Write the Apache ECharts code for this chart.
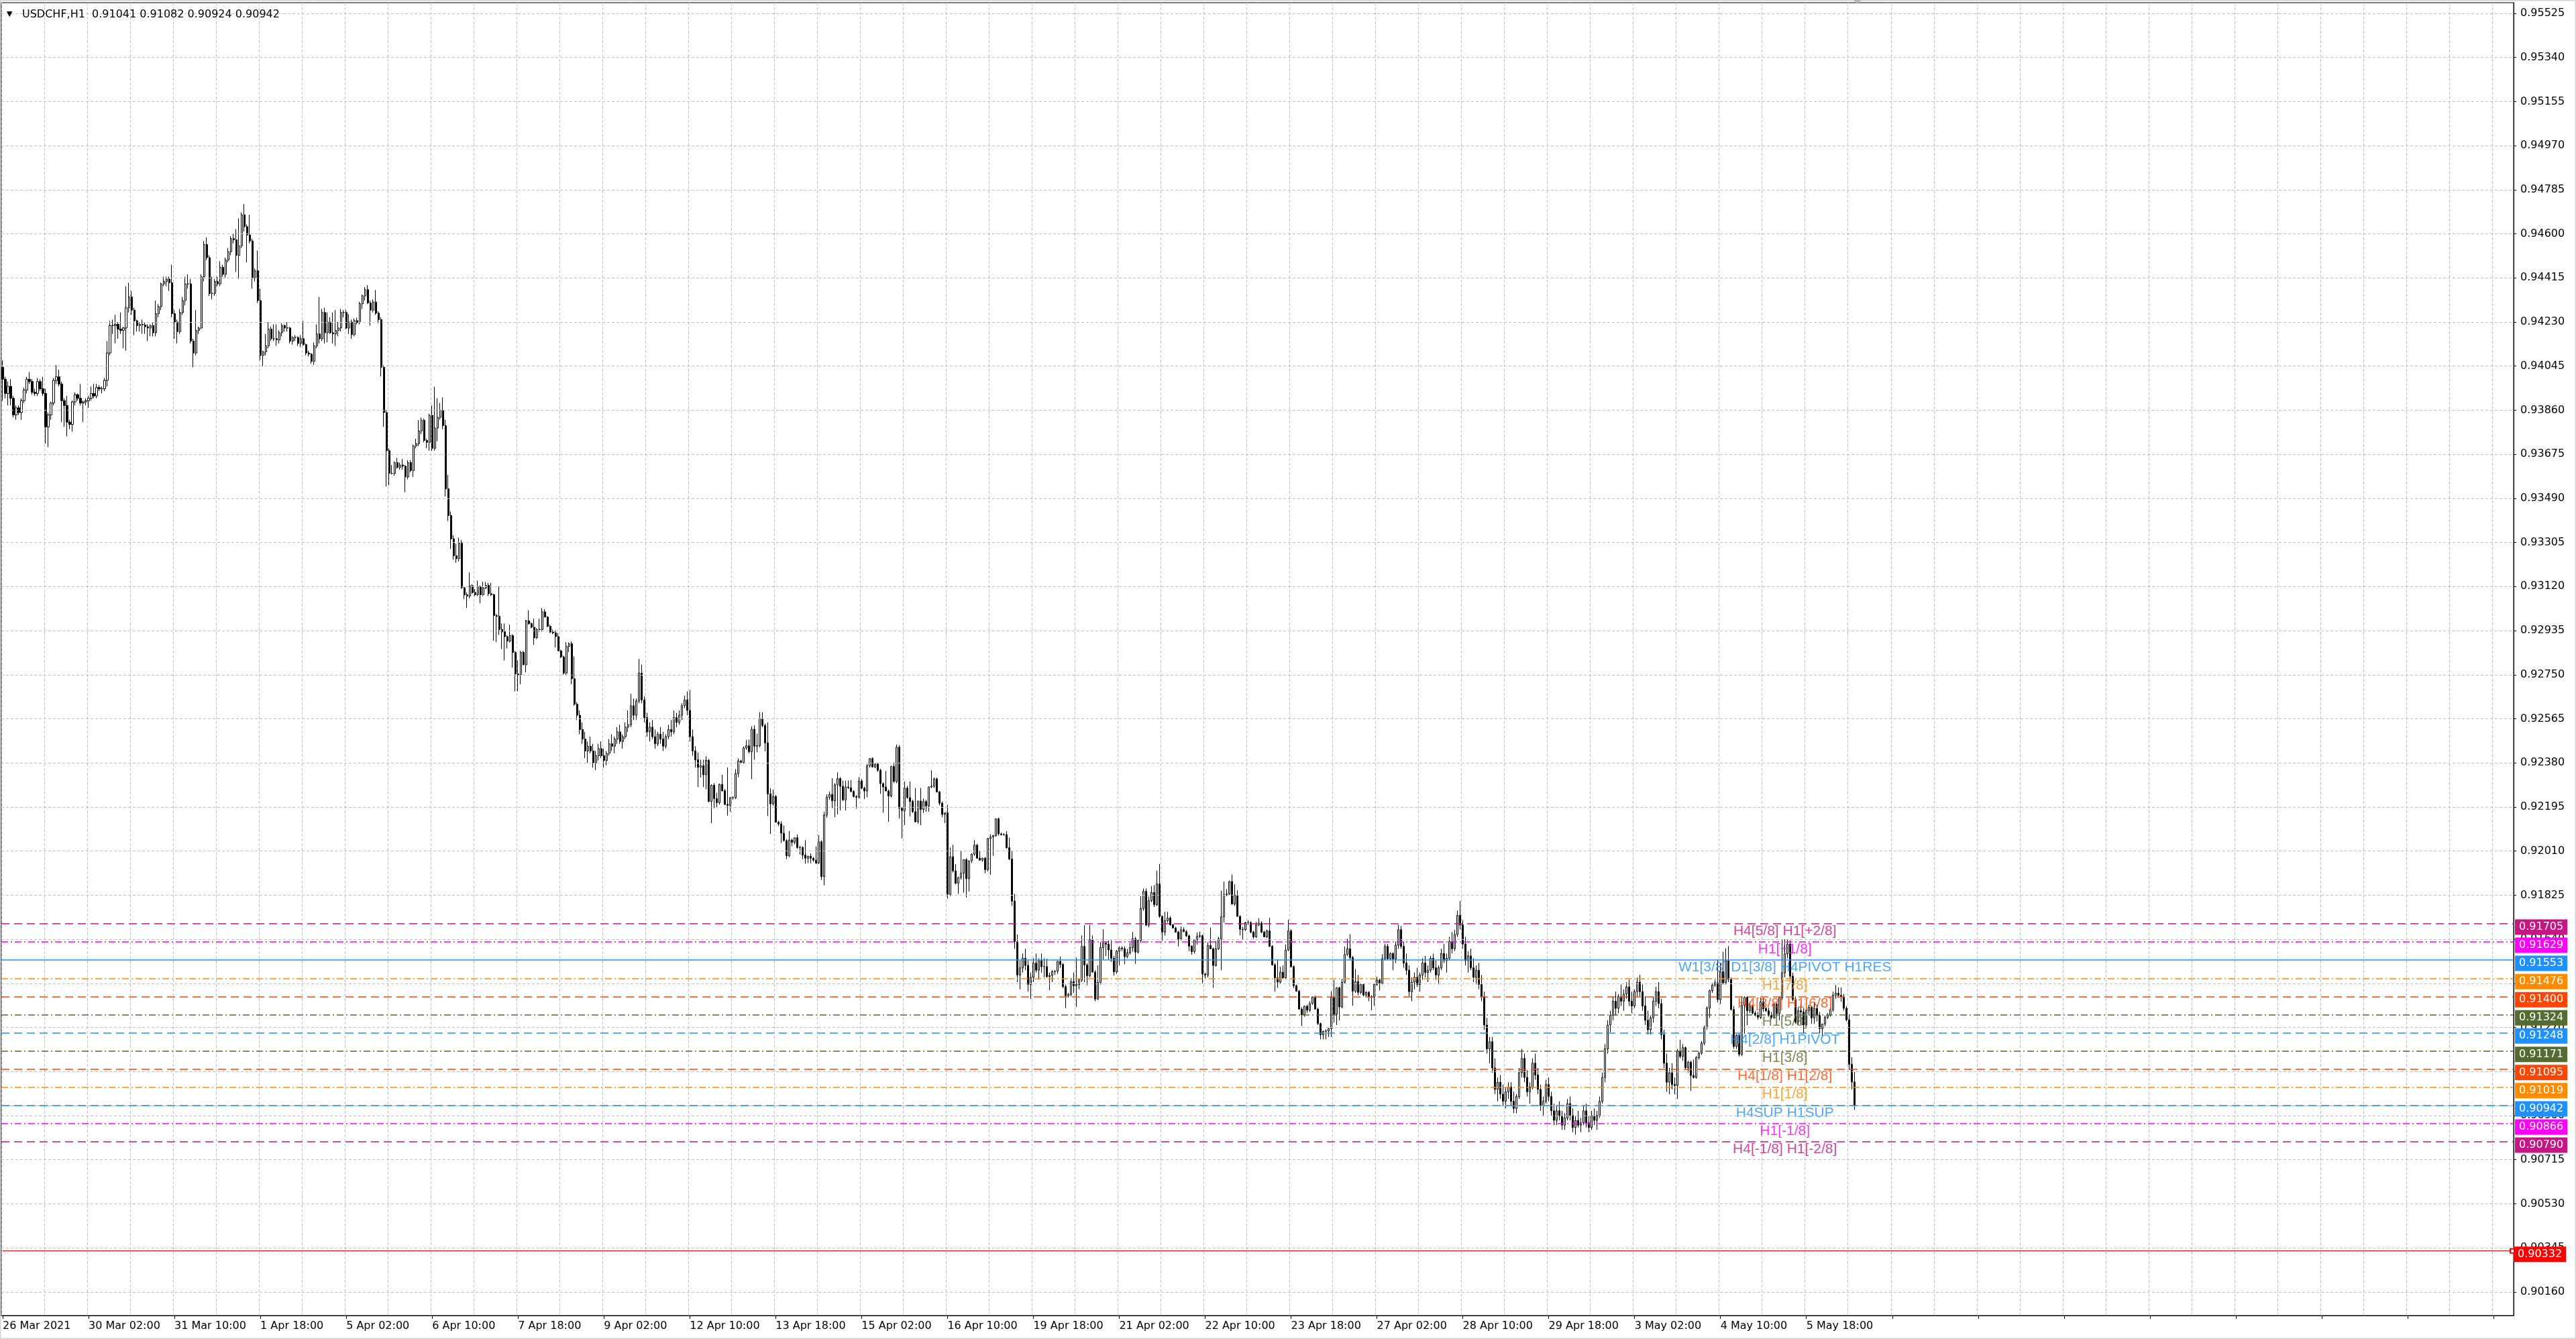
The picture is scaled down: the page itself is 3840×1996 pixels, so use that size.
<!DOCTYPE html>
<html>
<head>
<meta charset="utf-8">
<title>USDCHF,H1</title>
<script src="https://cdn.jsdelivr.net/npm/echarts@6/dist/echarts.min.js"></script>
<style>
html, body { margin: 0; padding: 0; background: #fff; }
#chart { width: 3840px; height: 1996px; }
</style>
</head>
<body>
<div id="chart"></div>
<script>
// H1 bars, [open, high, low, close] in pips above 0.9000
// 26 Mar 18:00 .. 2 Apr
var weekA = [
[404,407,390,399],[399,400,391,393],[393,398,388,396],[396,399,388,391],[391,392,383,384],[384,388,382,387],
[387,388,384,385],[385,391,382,390],[390,395.5,389,394.5],[394.5,400,393,399],[399,402,397,398],[398,399,392.5,393.5],[393.5,395,392,393],[393,399.5,392,398],[398,399,394,395],[395,400,392,393],
[393,395,372,379],[379,385,370.5,384],[384,389.5,382,389],[389,399.5,388,398.5],[398.5,405,397,400],[400,403,396,397],[397,398,381,390],[390,391,379,388],[388,392,375,381],[381,382,378,380],
[380,390,377,389.5],[389.5,393.5,388,392.5],[392.5,393,390,391],[391,397,388,389],[389,390,381,389.5],[389.5,391,388,390],[390,392,387,391],[391,396,390,393],[393,397,391,392],[392,397,391,395.5],
[395.5,396.5,394,395],[395,396,393,395],[395,399.5,394,398.5],[398.5,415,396,410],[410,423.5,409,421.5],[421.5,424,418,421.5],[421.5,426,414,422],[422,423,416,420],[420,427,418,419.5],[419.5,421,412,420.5],
[420.5,438,411,429],[429,439.5,427,433.5],[433.5,436,426,428],[428,429,417.5,423.5],[423.5,424,419,421.5],[421.5,423,419,422],[422,424,418,421.8],[421.8,423,418,421],[421,422,415,420.5],[420.5,422,417,421.5],
[421.5,423,417,418.5],[418.5,432,417,426.5],[426.5,430.5,425,429.5],[429.5,439.5,428,439],[439,442,438,440],[440,442,438,441],[441,442,436,439.5],[439.5,447,425,426.5],[426.5,428,416,423],[423,424,414,419],
[419,428.5,418,427],[427,433.5,426,432],[432,442,430,439],[439,443,437,439],[439,441,414,415],[415,416,404,410],[410,428,409,419.5],[419.5,421,418,420.5],[420.5,443,420,442],[442,457,440,455.5],
[455.5,458.5,449,450],[450,451,434,435],[435,442,432.5,435],[435,441,434,440],[440,442,438,439],[439,448.5,438,446],[446,447,442,443],[443,450,441.5,449],[449,454,448,452.5],[452.5,459,451,458],
[458,460,456,457.5],[457.5,462,444,451],[451,466.5,441,455],[455,469,454,468],[468,472.5,461,463],[463,464,448,459.5],[459.5,468,456,457],[457,458,437,441.5],[441.5,445.5,440,444.5],[444.5,453,431,432],
[432,437,407,409],[409,411,404.5,410.5],[410.5,418,409,413],[413,423,412,420],[420,421,415,416],[416,422,415,416],[416,422,413,415.5],[415.5,419.5,414,418.5],[418.5,422.5,417,421.5],[421.5,422,419,420.5],
[420.5,423,419,420.5],[420.5,421,414,415],[415,417,413.5,416.5],[416.5,417.5,415,416.5],[416.5,417,413,414],[414,417.5,412.5,416],[416,423.5,413,413.5],[413.5,414,409,410],[410,411,408.5,409.5],[409.5,410,405.5,406.5],
[406.5,414.5,405,413],[413,422,412,418],[418,433.5,414,416],[416,428.5,415,427],[427,429,414,418.5],[418.5,427,414.5,423],[423,425,418,418.5],[418.5,427,414,418],[418,428,413,419.5],[419.5,423,417,420.5]
];
// 5 Apr .. 9 Apr
var weekB = [
[420.5,428.5,419,427],[427,428,425,427],[427,428,420,420.5],[420.5,426.3,418,423],[423,424,416,417.7],[417.7,424.5,417,423.6],[423.6,424.8,422,422.8],[422.8,431.5,422,430.7],[430.7,434.5,428.5,434],[434,437.6,432,436.6],
[436.6,438.5,430.5,431],[431,432,421.5,428],[428,432.5,427,431.4],[431.4,436.4,426,426.7],[426.7,427.5,422.4,424],[424,425,400.2,404],[404,405,379,385],[385,386,354,369],[369,370,354.5,359.5],[359.5,363,359,359.5],
[359.5,364.5,358.5,364],[364,366,361.5,362],[362,364,361,363],[363,365.5,361,362.5],[362.5,363,351.6,358],[358,365,357,364],[364,365,360,360.7],[360.7,371.5,358,371],[371,374,370,372],[372,381.8,371,377.3],
[377.3,383,376,381.8],[381.8,382.5,372.5,373.3],[373.3,374,370,372.5],[372.5,384.5,369,383.8],[383.8,388,369,370],[370,395.8,369,378.5],[378.5,391,373,383],[383,389,382,386],[386,391.3,378,379.5],[379.5,382,349.8,353],
[353,358.9,339.5,341.8],[341.8,343.5,327.8,332],[332,333.5,323.3,324.9],[324.9,330,322,323.7],[323.7,332.5,322.5,330.2],[330.2,331.5,311,311.5],[311.5,312,306.8,308.5],[308.5,309.5,303,308],[308,317.9,307,312.3],[312.3,313,309,309.5],
[309.5,311,308,308.6],[308.6,314.5,308,311.9],[311.9,312.5,305,308.6],[308.6,314,308,311.4],[311.4,313.9,311,312.5],[312.5,313.5,308,309],[309,313.5,308,308.6],[308.6,309,289.3,299.8],[299.8,300.5,288.7,299.5],[299.5,312,291.7,294],
[294,296.5,285.8,293],[293,296.5,281,291],[291,291.5,286,289.1],[289.1,296,288.5,291.4],[291.4,292,278,284.3],[284.3,285,268,275.3],[275.3,281,268,275],[275,285,271,284.4],[284.4,285,279,279.2],[279.2,298,276,297.6],
[297.6,302,296,296.4],[296.4,297,294.5,294.9],[294.9,298.5,287.5,290.5],[290.5,294.5,290,294],[294,298.5,293,294],[294,303,293,301.4],[301.4,302.5,299,299.2],[299.2,299.5,295,295.3],[295.3,296,292.5,292.9],[292.9,294,292,292.5],
[292.5,293.5,286.5,291],[291,292.5,285,285],[285,285.5,282,282.5],[282.5,283,275,275.7],[275.7,288.7,275,286.9],[286.9,288.5,284.5,288],[288,289,271,273.3],[273.3,282.7,262,262.6],[262.6,263.5,256,258],[258,260,250,252],
[252,255,246,248],[248,251,240,243],[243,247,238,245],[245,249,242,243],[243,246,236,238],[238,243,235,241],[241,246,239,244],[244,247,240,241],[241,244,236,239],[239,243,237,242],
[242,248,241,246],[246,250,243,245],[245,249,242,248],[248,253,246,251],[251,254,246,247],[247,250,244,249],[249,255,248,253],[253,260,251,254],[254,267,253,262],[262,265,256,258],
[258,265,256,264],[264,281.6,263,275.7],[275.7,279.2,263,264.4],[264.4,266,255,257],[257,259,249,251],[251,255,247,253],[253,256,248,249],[249,252,244,246],[246,251,245,250],[250,253,246,248]
];
// 12 Apr .. 16 Apr
var weekC = [
[248,251,243,245],[245,250,244,249],[249,254,248,252],[252,256,249,251],[251,260,250,257],[257,259,253,255],[255,260,254,258],[258,263,256,262],[262,266.2,261,264.4],[264.4,268,258,260],
[260,268.5,247,249],[249,252,241,243],[243,245,236,239.3],[239.3,242.4,227.9,236.1],[236.1,239.3,231.9,236.8],[236.8,239.3,227.9,233],[233,240.8,226.9,239.1],[239.1,239.6,221.5,221.8],[221.8,229,212.7,228.6],[228.6,229.5,219,223],
[223,225.5,219.4,221.3],[221.3,229.3,220.5,229],[229,233,226,226.3],[226.3,227,220.2,220.6],[220.6,236.1,215.9,220.2],[220.2,223.6,217.5,223.4],[223.4,224,222.5,223.4],[223.4,235.4,222.8,233.5],[233.5,239.9,232,238.8],[238.8,239.3,237.6,238.2],
[238.2,244.9,237.5,244.3],[244.3,247.6,243.5,245.2],[245.2,247.8,242,242.7],[242.7,253.4,231.2,252.1],[252.1,253.7,239.3,245],[245,250.3,242.5,245.2],[245.2,259.3,244.5,256.5],[256.5,259.3,253,253.7],[253.7,254.5,242.8,246.4],[246.4,255,215.7,225],
[225,227.4,208.2,220.8],[220.8,226.8,220,223.9],[223.9,224.5,213,213.1],[213.1,213.7,211.5,212.4],[212.4,213.5,204.4,208.5],[208.5,211.7,205,205.4],[205.4,206,197.6,199],[199,209.4,198.5,205.6],[205.6,206.2,203,204.7],[204.7,206.6,203.8,206.6],
[206.6,208,202,202.5],[202.5,203.2,199.5,202.5],[202.5,203,197.6,199.3],[199.3,205.6,195.7,198],[198,199,196,198.8],[198.8,200,195.9,198],[198,198.5,196.5,197.2],[197.2,203,195.5,196],[196,207.7,195.5,204.9],[204.9,205.5,188.9,190.3],
[190.3,217.5,186.6,216.1],[216.1,224.8,215,223.6],[223.6,226,222.5,224.8],[224.8,231.6,219,222.1],[222.1,229.5,215.2,228.8],[228.8,234,216.4,231.4],[231.4,232,218,228.2],[228.2,230.6,222,222.5],[222.5,230.6,218,227.9],[227.9,230.6,227,227.6],
[227.6,230.8,225.7,226],[226,226.5,223.5,223.9],[223.9,224.5,218.8,223.6],[223.6,232,223,230.4],[230.4,231.2,227,227.4],[227.4,228,222.8,226.2],[226.2,237.5,223.6,236.8],[236.8,240,236,239.8],[239.8,240.3,236,236.3],[236.3,238,235.8,237.5],
[237.5,238,234.3,234.9],[234.9,235.5,225,229.3],[229.3,229.8,217.1,227.9],[227.9,234.6,226.5,226.2],[226.2,226.8,213.3,224.1],[224.1,236.8,223.5,236.5],[236.5,238.2,229.5,230.2],[230.2,245.7,229.5,244.6],[244.6,245.5,214.7,219],[219,219.5,206.3,218],
[218,230.2,211.9,227.4],[227.4,228.3,223,223.4],[223.4,230.2,215.6,221.8],[221.8,222.5,217,217.5],[217.5,227.4,213,213.3],[213.3,222,212.5,222],[222,227.5,211.9,218.5],[218.5,223,217,221.8],[221.8,222.5,217.5,219.9],[219.9,228,217.5,227.9],
[227.9,234.9,227.5,228.2],[228.2,231.8,227.5,231.3],[231.3,231.8,225.6,225.8],[225.8,226.2,220.2,221.1],[221.1,221.8,215.2,216.4],[216.4,217.2,212.7,217],[217,220.4,181,182.8],[182.8,202.5,182,198.6],[198.6,203.6,192,192.7],[192.7,195.5,187,187.5],
[187.5,190.2,183,189.9],[189.9,201,189,191.7],[191.7,197.5,183.5,197.4],[197.4,198,181.5,189.4],[189.4,197,184,196.9],[196.9,200,196,199.7],[199.7,205.6,199,203.5],[203.5,204,198,198],[198,201,197,197.2],[197.2,198.2,196.5,198]
];
// 19 Apr .. 23 Apr
var weekD = [
[198,198.5,191.7,193.2],[193.2,206.5,192.5,206.3],[206.3,208,191,206.9],[206.9,207.8,199,207.5],[207.5,214.7,207,214.5],[214.5,215,207.5,208.2],[208.2,208.7,207.5,207.9],[207.9,208.5,207.4,207.9],[207.9,209.3,202,202.4],[202.4,206.6,197.2,197.7],
[197.7,201.2,178,180],[180,183,160,163],[163,166,146,149],[149,155,143,152],[152,158,150,156],[156,160,151,153],[153,155,142,145],[145,150,139,148],[148,156,146,154],[154,158,150,151],
[151,156,147,155],[155,158,150,152.5],[152.5,156,148,152.5],[152.5,155.8,147.8,148.3],[148.3,150,142.6,148.8],[148.8,151,146,150.4],[150.4,151,149,150.6],[150.6,154.9,149.5,154.7],[154.7,156.7,152,153.4],[153.4,154,143.5,144.1],
[144.1,145,135.1,140.3],[140.3,141.5,139.5,140.8],[140.8,147.8,140,146.2],[146.2,150,141.5,144.5],[144.5,156.3,135.6,145],[145,147.5,143,146.9],[146.9,165.6,146,161],[161,169.9,146,153.2],[153.2,154,144.7,148.7],[148.7,169.9,148,163.8],
[163.8,165.6,150,150.2],[150.2,151,138,138.9],[138.9,153,138.5,145.9],[145.9,162.8,145,160.5],[160.5,168.2,155.5,162.4],[162.4,163,157,161.9],[161.9,163.5,155.5,159.5],[159.5,163.5,154.5,156],[156,157,148.7,150.3],[150.3,159.5,149.5,159],
[159,161,153,160.3],[160.3,161,159,160],[160,161,153.5,156.7],[156.7,159.9,156,158.3],[158.3,162.4,157.5,160.5],[160.5,167,158.8,164.2],[164.2,165,153.7,158.6],[158.6,164,158,163.5],[163.5,182,162.5,176.9],[176.9,185.3,176,184.1],
[184.1,185.3,169.5,169.9],[169.9,181.9,169,180.2],[180.2,186.3,179.5,183.6],[183.6,186.7,177.5,178.5],[178.5,192.8,178,187.2],[187.2,195.6,173,173.6],[173.6,174,163.3,167],[167,175.5,165.5,171.8],[171.8,175.5,171,172.9],[172.9,173.7,169.7,170],
[170,170.5,168.5,168.7],[168.7,169.2,166.8,167],[167,167.5,161,164],[164,169.4,163.5,168],[168,169,167,167.2],[167.2,167.8,165,165.4],[165.4,166,159,161.1],[161.1,161.5,157.5,158.8],[158.8,164,158,163.8],[163.8,166.8,161.7,165.2],
[165.2,167.2,164.5,165.5],[165.5,166,145.5,149.4],[149.4,150,147.5,149],[149,162.8,148,161.4],[161.4,168.9,160,160],[160,160.5,143.6,153],[153,163.2,152.5,160],[160,165,159.5,164.2],[164.2,184.4,151,173.4],[173.4,188.2,171,182.8],
[182.8,185,182,183],[183,188.6,182.5,188.2],[188.2,191.2,178.5,178.8],[178.8,187,178,182.5],[182.5,184.5,173.5,173.6],[173.6,174,165.6,168.2],[168.2,169.2,164,168],[168,171.3,167.5,171],[171,172,170,171],[171,171.5,166.5,167],
[167,167.5,164.2,165],[165,171.3,164.5,170],[170,172.8,169.5,170.8],[170.8,171.5,166.5,167],[167,167.5,164.8,165],[165,168,164.5,167.5],[167.5,173,160.8,161],[161,161.5,153,153.2],[153.2,154,142,147.8],[147.8,155.5,143.6,146],
[146,152.5,145.5,150.2],[150.2,153,147.5,147.8],[147.8,161.8,147.2,159.5],[159.5,172.2,159,167.5],[167.5,168.2,152,152.5],[152.5,153,143.5,144.5],[144.5,145,142,142.2],[142.2,142.7,134.5,134.7],[134.7,135.5,127.6,132.3],[132.3,136.1,131.5,135.9]
];
// 26 Apr .. 30 Apr
var weekE = [
[135.9,136.5,133,134.2],[134.2,138,133.5,137],[137,140,136.5,139.8],[139.8,140.3,134.5,134.7],[134.7,135.3,128,128.6],[128.6,129,122,123.9],[123.9,125.6,122,125.4],[125.4,126.2,122,125.5],[125.5,126.8,123,126.5],[126.5,142.2,123,139.8],
[139.8,146.9,129,132.5],[132.5,143.9,128,143.6],[143.6,144,130,135.6],[135.6,147.4,135,145.9],[145.9,160.9,145.5,157.6],[157.6,164.2,157,160],[160,166.1,155.5,156.3],[156.3,157,136.1,142.2],[142.2,151.5,141.5,146.2],[146.2,149,140.5,141.7],
[141.7,145.5,141,145],[145,145.5,140,140.6],[140.6,142.2,140,141.7],[141.7,142.2,138,139.8],[139.8,140.5,134.2,139.7],[139.7,145.5,136,145],[145,148.3,144.5,146.9],[146.9,147.5,142.5,145.5],[145.5,157.7,145,155.8],[155.8,162,155,161],
[161,162,155.5,155.8],[155.8,158.5,155.3,158],[158,158.5,151,155.7],[155.7,163,154,161.5],[161.5,170,160,168],[168,169.5,160,161],[161,163,152,154],[154,158,149,151],[151,153,140,142],[142,148,138,146],
[146,150,143,148],[148,152,144,145],[145,150,142,149],[149,156,147,154],[154,157,148,150],[150,153,146,151],[151,157,150,156],[156,158,151,152],[152,155,147,149],[149,153,145,152],
[152,160,151,158],[158,162,154,155],[155,158,150,156],[156,165,155,163],[163,167,158,160],[160,168,159,166],[166,176,165,174],[174,180,168,170],[170,172,160,162],[162,165,153,155],
[155,159,150,157],[157,160,151,152],[152,156,146,148],[148,153,145,151],[151,154,143,145],[145,149,138,140],[140,142,126,128],[128,131,116,118],[118,123,112,121],[121,123,108,110],
[110,114,99,101],[101,106,96,104],[104,107,97,99],[99,103,94,96],[96,102,93,100],[100,104,97,102],[102,104,94,96],[96,100,91,93],[93,99,91,98],[98,110,97,108],
[108,118,106,114],[114,116,104,106],[106,109,98,100],[100,104,95,102],[102,114,101,112],[112,116,105,107],[107,110,99,101],[101,103,92,94],[94,98,90,96],[96,105,95,103],
[103,106,96,98],[98,100,90,92],[92,95,86,88],[88,94,86,92],[92,96,88,90],[90,92,84,86],[86,91,84,89],[89,97,88,95],[95,98,88,90],[90,93,83,85],
[85,90,82,88],[88,92,85,86],[86,89,83,87],[87,94,86,92],[92,95,85,87],[87,90,83,85],[85,92,84,90],[90,93,86,88],[88,92,84,90],[90,98,89,96],
[96,108,95,106],[106,120,104,118],[118,130,116,128],[128,134,125,132],[132,140,130,138],[138,142,132,135],[135,141,133,140],[140,145,136,138],[138,143,134,141],[141,146,139,144]
];
// 3 May .. 6 May
var weekF = [
[144,147,136,138],[138,142,133,136],[136,143,135,142],[142,148,140,146],[146,149,140,142],[142,145,134,136],[136,140,128,130],[130,134,124,126],[126,132,124,131],[131,140,129,138],
[138,144,136,142],[142,146,135,137],[137,139,122,124],[124,126,110,112],[112,116,100,104],[104,110,99,108],[108,112,101,103],[103,106,99,102.6],[102.6,118,97,117.1],[117.1,121.8,114,114.8],
[114.8,120,113,118.5],[118.5,119,109.5,110.1],[110.1,113,108,112.4],[112.4,113,100.3,106.8],[106.8,113.5,105.5,106],[106,115,105.5,114.3],[114.3,116.8,113.5,116.2],[116.2,121.3,115.5,120.4],[120.4,127.8,119.5,126.9],[126.9,135.8,126,135.1],
[135.1,142.9,131,142.4],[142.4,145.6,141.5,144.8],[144.8,147,144,145.7],[145.7,155.5,137.5,138.7],[138.7,154,136.8,150.4],[150.4,158.8,145,145.7],[145.7,160.2,145,155],[155,161.1,146,147.1],[147.1,148,134,134.5],[134.5,136,118,119],
[119,124.2,118,123.7],[123.7,124.5,114.8,115.7],[115.7,140,115,136.3],[136.3,140,124.3,139.6],[139.6,140,127.9,134],[134,137.7,133,135.8],[135.8,136.5,132.5,133],[133,134,131.6,132.1],[132.1,133.5,130.2,131.2],[131.2,139.4,130.5,137.7],
[137.7,139.5,133.5,134.9],[134.9,135.5,133.5,134],[134,135.2,131.5,132],[132,133.5,130.5,131.2],[131.2,137,130.5,136.8],[136.8,137.5,131.5,132.8],[132.8,140,130,139.4],[139.4,164,138.5,149.9],[149.9,164,148,157.9],[157.9,164.1,156,162],
[162,163.5,147,148.5],[148.5,150,138,138.7],[138.7,140,128.5,129.3],[129.3,135.5,128,134],[134,137,128.2,133.5],[133.5,135,124.4,128],[128,134.5,127,134],[134,136.5,132,135.4],[135.4,136,128.5,131],[131,137.5,128.5,135],
[135,136.5,129.5,132],[132,133.5,124.5,126.5],[126.5,128.6,123.5,128.4],[128.4,132,127.5,131.2],[131.2,133,130.5,132.1],[132.1,135.3,131.5,134.4],[134.4,142,133.5,140.5],[140.5,144.8,139,141.4],[141.4,143.8,139.5,140.5],[140.5,143.8,137.8,139.9],
[139.9,141,134,135],[135,136,129.5,130.2],[130.2,132.5,109.2,111.5],[111.5,114.5,101,104.1],[104.1,108.2,92.4,94.2]
];

var symbolName = 'USDCHF,H1';

// time labels every 32 bars
var timeLabels = ['26 Mar 2021', '30 Mar 02:00', '31 Mar 10:00', '1 Apr 18:00', '5 Apr 02:00', '6 Apr 10:00',
  '7 Apr 18:00', '9 Apr 02:00', '12 Apr 10:00', '13 Apr 18:00', '15 Apr 02:00', '16 Apr 10:00',
  '19 Apr 18:00', '21 Apr 02:00', '22 Apr 10:00', '23 Apr 18:00', '27 Apr 02:00', '28 Apr 10:00',
  '29 Apr 18:00', '3 May 02:00', '4 May 10:00', '5 May 18:00'];

var priceTicks = [0.95525, 0.95340, 0.95155, 0.94970, 0.94785, 0.94600, 0.94415, 0.94230, 0.94045, 0.93860,
  0.93675, 0.93490, 0.93305, 0.93120, 0.92935, 0.92750, 0.92565, 0.92380, 0.92195, 0.92010,
  0.91825, 0.91640, 0.91455, 0.91270, 0.91085, 0.90900, 0.90715, 0.90530, 0.90345, 0.90160];

// murrey / pivot levels
var levelPrices = [0.91705, 0.91629, 0.91553, 0.91476, 0.91400, 0.91324, 0.91248, 0.91171, 0.91095, 0.91019, 0.90942, 0.90866, 0.90790];
var levelNames = ['H4[5/8] H1[+2/8]', 'H1[+1/8]', 'W1[3/8] D1[3/8] H4PIVOT H1RES', 'H1[7/8]', 'H4[3/8] H1[6/8]', 'H1[5/8]',
  'H4[2/8] H1PIVOT', 'H1[3/8]', 'H4[1/8] H1[2/8]', 'H1[1/8]', 'H4SUP H1SUP', 'H1[-1/8]', 'H4[-1/8] H1[-2/8]'];
var bidPrice = 0.90942;
var alertPrice = 0.90332;

// styles for the levels
var levelColors = ['#C71585', '#FF00FF', '#1E90FF', '#FF8C00', '#FF4500', '#556B2F', '#1E90FF',
  '#556B2F', '#FF4500', '#FF8C00', '#1E90FF', '#FF00FF', '#C71585'];
var levelDash = ['dash', 'dot', 'solid', 'dot', 'dash', 'dot', 'dash', 'dot', 'dash', 'dot', 'dash', 'dot', 'dash'];
var dashTypes = { dash: [12, 7], dot: [10, 4, 2, 4], solid: 'solid' };

var totalSlots = 936;
var textSlot = 664;

function px(p) { return +(0.9 + p / 10000).toFixed(5); }

var bars = [].concat(weekA, weekB, weekC, weekD, weekE, weekF);
// echarts order: open, close, low, high
var candles = bars.map(function (b) { return [px(b[0]), px(b[3]), px(b[2]), px(b[1])]; });
var last = bars[bars.length - 1];

var slots = [];
for (var i = 0; i < totalSlots; i++) slots.push(String(i));

var boxLabel = function (text, color) {
  return {
    show: true, position: 'end', distance: 2, offset: [0, 5], formatter: text,
    color: '#fff', backgroundColor: color, padding: [3, 6, 2, 6],
    fontSize: 16, lineHeight: 18, fontFamily: 'DejaVu Sans'
  };
};

var levelLines = [{ yAxis: bidPrice, lineStyle: { color: '#A7B1BC', type: 'solid', width: 1 }, label: { show: false } }];
levelPrices.forEach(function (p, i) {
  levelLines.push({
    yAxis: p,
    lineStyle: { color: levelColors[i], type: dashTypes[levelDash[i]], width: 1.5 },
    label: boxLabel(p.toFixed(5), levelColors[i])
  });
});
levelLines.push([
  { coord: [0, alertPrice], symbol: 'none' },
  { coord: [totalSlots - 1, alertPrice], symbol: 'emptyRect', symbolSize: 6,
    lineStyle: { color: '#FF0000', type: 'solid', width: 1.2 }, label: boxLabel(alertPrice.toFixed(5), '#FF0000') }
]);

var chart = echarts.init(document.getElementById('chart'));

var option = {
  animation: false,
  backgroundColor: '#fff',
  title: [
    { text: '\u25BC', left: 5, top: 11, textStyle: { fontSize: 11, fontWeight: 'normal', color: '#000', fontFamily: 'DejaVu Sans' } },
    { text: symbolName + '  ' + [last[0], last[1], last[2], last[3]].map(function (v) { return px(v).toFixed(5); }).join(' '),
      left: 28, top: 9, textStyle: { fontSize: 16, fontWeight: 'normal', color: '#000', fontFamily: 'DejaVu Sans' } }
  ],
  graphic: [{
    type: 'rect', silent: true, z: -1,
    shape: { x: 0, y: 0, width: 3840, height: 1996 },
    style: { fill: 'none', stroke: '#d4d4d4', lineWidth: 3 }
  }],
  grid: { left: 2, right: 93, top: 4, bottom: 35, show: true, borderColor: '#000', borderWidth: 1, backgroundColor: '#fff' },
  xAxis: {
    type: 'category',
    data: slots,
    boundaryGap: true,
    axisLine: { show: true, lineStyle: { color: '#000', width: 1 } },
    axisTick: { show: true, interval: 31, alignWithLabel: true, length: 5, lineStyle: { color: '#000' } },
    axisLabel: {
      interval: 31, align: 'left', margin: 8, fontSize: 16, fontFamily: 'DejaVu Sans', color: '#000',
      formatter: function (v, idx) { return (idx % 32 === 0 && timeLabels[idx / 32]) ? timeLabels[idx / 32] : ''; }
    },
    splitLine: { show: true, interval: 15, lineStyle: { color: '#c0c0c0', type: [4, 3], width: 1 } }
  },
  yAxis: {
    type: 'value',
    position: 'right',
    scale: true,
    min: 0.90061,
    max: 0.95570,
    axisLine: { show: true, lineStyle: { color: '#000', width: 1 } },
    axisTick: { show: true, length: 4, customValues: priceTicks, lineStyle: { color: '#000' } },
    axisLabel: {
      customValues: priceTicks, margin: 10, fontSize: 16, fontFamily: 'DejaVu Sans', color: '#000',
      formatter: function (v) { return v.toFixed(5); }
    },
    splitLine: { show: false }
  },
  series: [
    {
      // horizontal grid at the price ticks
      type: 'line', name: 'grid', data: [], silent: true, z: 1,
      markLine: {
        silent: true, symbol: ['none', 'none'], animation: false, precision: 5,
        label: { show: false },
        lineStyle: { color: '#c0c0c0', type: [4, 3], width: 1 },
        data: priceTicks.map(function (v) { return { yAxis: v }; })
      }
    },
    {
      type: 'candlestick', name: symbolName, data: candles, z: 3,
      large: false, barWidth: 2.6,
      itemStyle: { color: '#fff', color0: '#000', borderColor: '#000', borderColor0: '#000', borderWidth: 1 },
      markLine: { silent: true, symbol: ['none', 'none'], animation: false, precision: 5, data: levelLines },
      markPoint: {
        silent: true, animation: false,
        data: [{ coord: [candles.length, 0.95570], symbol: 'triangle', symbolRotate: 180, symbolSize: [12, 7],
          symbolOffset: [0, -1], itemStyle: { color: '#b4b4b4' }, label: { show: false } }]
      }
    },
    {
      type: 'scatter', name: 'levels', silent: true, z: 4,
      symbolSize: 1,
      itemStyle: { color: 'rgba(0,0,0,0)' },
      data: levelPrices.map(function (p, i) { return { value: [textSlot, p], label: { color: levelColors[i] } }; }),
      label: {
        show: true, position: 'bottom', distance: 0, fontSize: 21, fontFamily: 'Liberation Sans',
        formatter: function (p) { return levelNames[p.dataIndex]; }
      }
    }
  ]
};

chart.setOption(option);
</script>
</body>
</html>
